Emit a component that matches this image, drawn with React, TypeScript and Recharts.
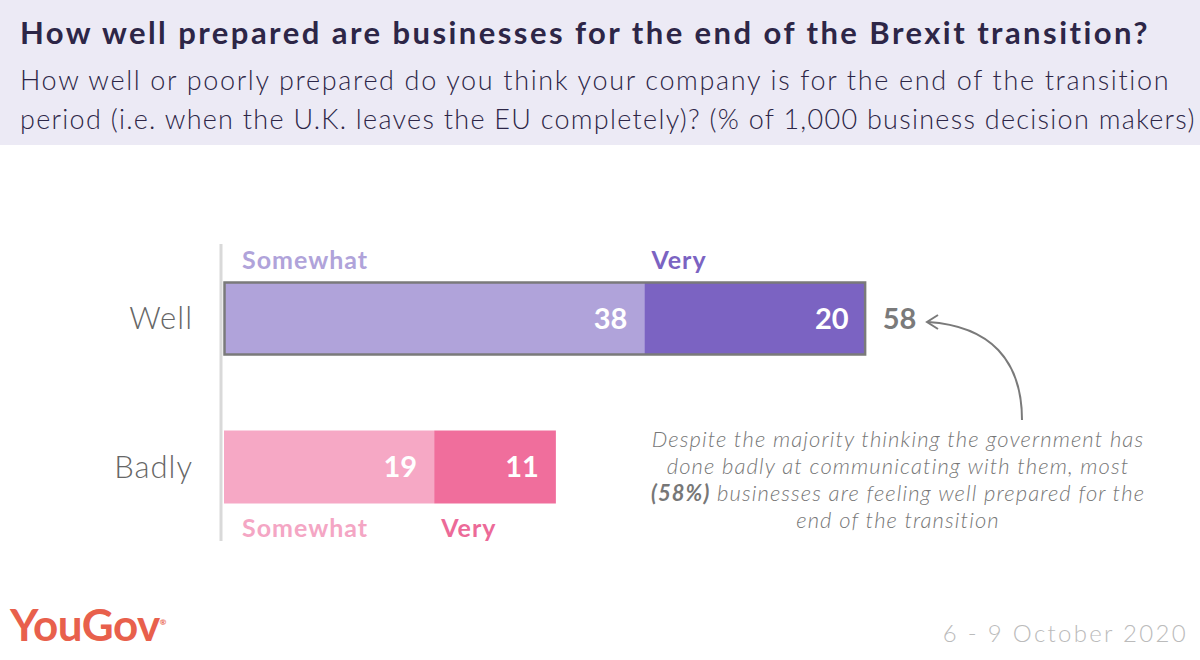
import { BarChart, Bar, XAxis, YAxis, Cell, LabelList } from "recharts"

// survey values (% of 1,000 business decision makers)
const categories = ["Well", "Badly"]
const somewhat = [38, 19]
const very = [20, 11]
const seriesNames = ["Somewhat", "Very"]

const DATA = categories.map((name, i) => ({ name, somewhat: somewhat[i], very: very[i] }))

const FONT = "Lato, 'Open Sans', sans-serif"
const SOMEWHAT_COLORS = ["#b0a3da", "#f6a8c5"]
const VERY_COLORS = ["#7b63c2", "#f06e9c"]
const NAME_COLORS = [["#b0a3da", "#7b63c2"], ["#f4a6c4", "#ec6a98"]]

// draws the very segment, plus the grey outline around the whole "Well" bar
const VeryShape = (props: any) => {
    const { x, y, width, height, fill, index } = props
    const w0 = index === 0 ? (width * somewhat[0]) / very[0] : 0
    return (
        <g>
            <rect x={x} y={y} width={width} height={height} fill={fill} />
            {index === 0 && (
                <rect x={x - w0 + 0.5} y={y + 0.5} width={width + w0 - 1} height={height - 1}
                    fill="none" stroke="#7a7a7a" strokeWidth={2.5} />
            )}
        </g>
    )
}

const seriesName = (series: number, dx: number) => (props: any) => {
    const { x, y, height, index } = props
    const above = index === 0
    return (
        <text x={x + dx} y={above ? y - 13 : y + height + 33} fill={NAME_COLORS[index][series]}
            fontSize={25} fontWeight={700} fontFamily={FONT} letterSpacing={1}>
            {seriesNames[series]}
        </text>
    )
}

const TotalLabel = (props: any) => {
    const { x, y, width, height, index } = props
    if (index !== 0) return null
    return (
        <text x={x + width + 17} y={y + height / 2 + 10} fill="#7a7a7a" fontSize={29} fontWeight={700} fontFamily={FONT}>
            {somewhat[0] + very[0]}
        </text>
    )
}

export default function App() {
    return (
        <div style={{ position: "absolute", left: 0, top: 0, width: 1200, height: 660, background: "#fff", fontFamily: FONT, overflow: "hidden" }}>
            <div style={{ position: "absolute", left: 0, top: 0, width: 1200, height: 145, background: "#eceaf5" }} />
            <div style={{ position: "absolute", left: 20, top: 13, fontSize: 31, fontWeight: 700, color: "#2d2647", whiteSpace: "nowrap", letterSpacing: 2.45 }}>
                How well prepared are businesses for the end of the Brexit transition?
            </div>
            <div style={{ position: "absolute", left: 20, top: 60, fontSize: 27, fontWeight: 300, color: "#2d2647", lineHeight: "39px", whiteSpace: "nowrap" }}>
                <span style={{ letterSpacing: 1.65 }}>How well or poorly prepared do you think your company is for the end of the transition</span><br />
                <span style={{ letterSpacing: 1.27 }}>period (i.e. when the U.K. leaves the EU completely)? (% of 1,000 business decision makers)</span>
            </div>

            <div style={{ position: "absolute", left: 0, top: 0 }}>
                <BarChart width={1200} height={660} data={DATA} layout="vertical" barSize={73}
                    margin={{ top: 244, right: 91, bottom: 119, left: 0 }}>
                    <XAxis type="number" domain={[0, 80]} hide padding={{ left: 3, right: 0 }} />
                    <YAxis type="category" dataKey="name" width={221} tickLine={false}
                        axisLine={{ stroke: "#d9d9d9", strokeWidth: 3 }}
                        tick={{ fill: "#666", fontSize: 31, fontFamily: FONT, fontWeight: 300, letterSpacing: 1 }} tickMargin={22} />
                    <Bar dataKey="somewhat" stackId="a" isAnimationActive={false}>
                        {DATA.map((d, i) => <Cell key={d.name} fill={SOMEWHAT_COLORS[i]} />)}
                        <LabelList dataKey="somewhat" position="insideRight" offset={17} fill="#fff"
                            fontSize={29} fontWeight={700} fontFamily={FONT} />
                        <LabelList dataKey="somewhat" content={seriesName(0, 18)} />
                    </Bar>
                    <Bar dataKey="very" stackId="a" isAnimationActive={false} shape={VeryShape}>
                        {DATA.map((d, i) => <Cell key={d.name} fill={VERY_COLORS[i]} />)}
                        <LabelList dataKey="very" position="insideRight" offset={17} fill="#fff"
                            fontSize={29} fontWeight={700} fontFamily={FONT} />
                        <LabelList dataKey="very" content={seriesName(1, 7)} />
                        <LabelList dataKey="very" content={TotalLabel} />
                    </Bar>
                </BarChart>
            </div>

            <svg style={{ position: "absolute", left: 0, top: 0 }} width={1200} height={660}>
                <path d="M1022 420 C1022 360 990 326 928 322" fill="none" stroke="#7a7a7a" strokeWidth={2} />
                <path d="M938 315 L927 322 L938 329" fill="none" stroke="#7a7a7a" strokeWidth={2} />
            </svg>

            <div style={{ position: "absolute", left: 548, width: 700, top: 425, fontSize: 22, fontStyle: "italic", fontWeight: 300, color: "#777", lineHeight: "27px", textAlign: "center", letterSpacing: 1.1 }}>
                Despite the majority thinking the government has<br />
                done badly at communicating with them, most<br />
                <b style={{ fontWeight: 700 }}>(58%)</b> businesses are feeling well prepared for the<br />
                end of the transition
            </div>

            <div style={{ position: "absolute", left: 10, top: 598, fontSize: 44, fontWeight: 700, color: "#e8604c", letterSpacing: -0.5 }}>
                YouGov<span style={{ fontSize: 8, verticalAlign: "super", letterSpacing: 0 }}>®</span>
            </div>
            <div style={{ position: "absolute", right: 12, top: 618, fontSize: 24, fontWeight: 300, color: "#bbb", letterSpacing: 2.3 }}>
                6 - 9 October 2020
            </div>
        </div>
    )
}
